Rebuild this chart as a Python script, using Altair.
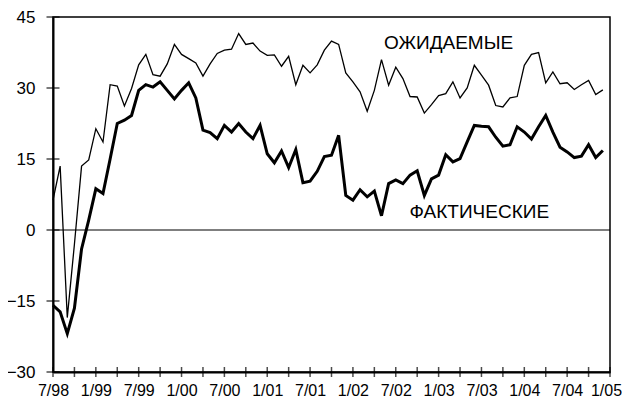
import altair as alt
import pandas as pd

# monthly observations, 7/98 .. 12/04 (month index 0 = 7/98)
months = pd.date_range("1998-07-01", periods=78, freq="MS").strftime("%Y-%m-%d").tolist()

expected = [6.3, 13.5, -18.5, -3.0, 13.5, 14.8, 21.4, 18.6, 30.7, 30.4, 26.2, 29.9,
            34.9, 37.1, 32.8, 32.5, 35.1, 39.2, 37.1, 36.2, 35.3, 32.5, 35.1, 37.3,
            38.0, 38.2, 41.5, 39.2, 39.5, 37.8, 36.9, 37.0, 34.6, 36.7, 30.7, 34.8,
            33.2, 34.9, 38.0, 39.9, 39.2, 33.2, 31.3, 29.2, 25.1, 29.5, 36.0, 30.6,
            34.4, 32.0, 28.2, 28.1, 24.7, 26.5, 28.4, 28.8, 31.3, 27.9, 30.0, 34.8,
            32.7, 30.6, 26.3, 26.0, 27.9, 28.2, 34.8, 37.1, 37.5, 31.1, 33.4, 30.9,
            31.1, 29.7, 30.7, 31.6, 28.6, 29.6]

actual = [-15.9, -17.3, -21.9, -16.5, -4.0, 2.1, 8.7, 7.7, 15.0, 22.5, 23.2, 24.2,
          29.5, 30.7, 30.2, 31.3, 29.5, 27.7, 29.5, 31.1, 27.9, 21.1, 20.6, 19.3,
          22.1, 20.7, 22.5, 20.7, 19.3, 22.1, 16.1, 14.2, 16.7, 13.2, 17.0, 10.0,
          10.3, 12.4, 15.5, 15.8, 20.0, 7.3, 6.3, 8.5, 7.0, 8.2, 3.0, 9.8,
          10.6, 9.8, 11.6, 12.5, 7.3, 10.8, 11.6, 15.9, 14.4, 15.1, 18.6, 22.1,
          21.9, 21.8, 19.6, 17.7, 18.0, 21.8, 20.7, 19.2, 21.8, 24.2, 20.7, 17.5,
          16.5, 15.3, 15.6, 18.0, 15.3, 16.8]

y_tick_values = [-30, -15, 0, 15, 30, 45]
x_label_text = ["7/98", "1/99", "7/99", "1/00", "7/00", "1/01", "7/01", "1/02",
                "7/02", "1/03", "7/03", "1/04", "7/04", "1/05"]
x_label_months = [0, 6, 12, 18, 24, 30, 36, 42, 48, 54, 60, 66, 72, 78]
x_tick_months = [0, 3, 6, 9, 12, 15, 18, 21, 24, 27, 30, 33, 36, 39, 42, 45, 48,
                 51, 54, 57, 60, 63, 66, 69, 72, 75, 78]

label_names = ["ОЖИДАЕМЫЕ", "ФАКТИЧЕСКИЕ"]
label_months = [55.4, 59.7]
label_values = [39.5, 3.8]

FONT = "Liberation Sans"

idx = list(range(len(months)))
df_exp = pd.DataFrame({"m": idx, "date": months, "value": expected})
df_act = pd.DataFrame({"m": idx, "date": months, "value": actual})
df_lab = pd.DataFrame({"m": label_months, "value": label_values, "name": label_names})
df_zero = pd.DataFrame({"value": [0]})
df_yt = pd.DataFrame({"m": [0] * len(y_tick_values), "value": y_tick_values})
df_xt = pd.DataFrame({"m": x_tick_months, "value": [-30] * len(x_tick_months)})

label_map = "{" + ",".join(f"'{m}':'{t}'" for m, t in zip(x_label_months, x_label_text)) + "}"

x_enc = alt.X(
    "m:Q",
    scale=alt.Scale(domain=[0, 78], nice=False, zero=False),
    axis=alt.Axis(values=x_label_months, labelExpr=f"{label_map}[''+datum.value]",
                  labelPadding=10, labelFontSize=16, labelOverlap=False, labelFlush=False,
                  labelOffset={"condition": {"test": "datum.value == 78", "value": -4}, "value": 0},
                  title=None),
)
y_enc = alt.Y(
    "value:Q",
    scale=alt.Scale(domain=[-30, 45], nice=False, zero=False),
    axis=alt.Axis(values=y_tick_values, labelPadding=18, labelOverlap=False,
                  labelFlush=False, title=None),
)

zero = alt.Chart(df_zero).mark_rule(color="black", strokeWidth=1.2).encode(y=y_enc)
line_exp = alt.Chart(df_exp).mark_line(color="black", strokeWidth=1.3).encode(x=x_enc, y=y_enc)
line_act = alt.Chart(df_act).mark_line(color="black", strokeWidth=3).encode(x=x_enc, y=y_enc)
yticks = alt.Chart(df_yt).mark_tick(orient="horizontal", size=13, thickness=1.5, color="black").encode(x=x_enc, y=y_enc)
xticks = alt.Chart(df_xt).mark_tick(orient="vertical", size=10, thickness=1.5, color="black").encode(x=x_enc, y=y_enc)
labels = alt.Chart(df_lab).mark_text(font=FONT, fontSize=19, color="black").encode(
    x=x_enc, y=y_enc, text="name:N")

chart = alt.layer(zero, line_exp, line_act, yticks, xticks, labels).properties(
    width=557, height=355,
    padding={"left": 45, "top": 9, "right": 12, "bottom": 25},
    autosize=alt.AutoSizeParams(type="none"),
).configure_view(
    stroke="black", strokeWidth=1.5
).configure_axis(
    labelFont=FONT, labelFontSize=17, labelColor="black",
    domainColor="black", domainWidth=2, ticks=False, grid=False,
)

chart.save("out.html", embed_options={"renderer": "svg", "actions": False})
